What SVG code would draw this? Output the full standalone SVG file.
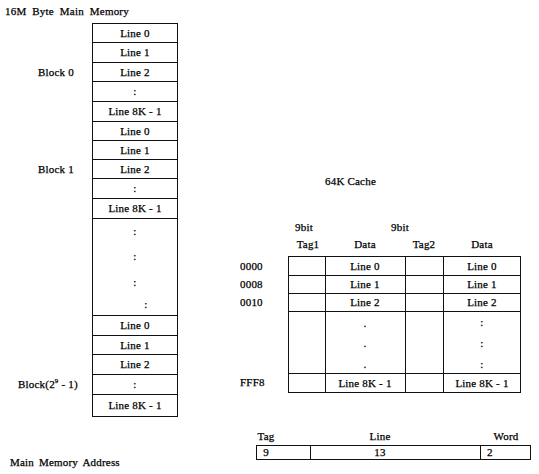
<svg xmlns="http://www.w3.org/2000/svg" width="539" height="474" viewBox="0 0 539 474">
<style>
text{font-family:"Liberation Serif","DejaVu Serif",serif;font-size:11px;fill:#000;stroke:#000;stroke-width:0.25;letter-spacing:0.2px}
.c{text-anchor:middle}
.b{fill:none;stroke:#111;stroke-width:1}
.l{stroke:#111;stroke-width:1}
</style>
<rect width="539" height="474" fill="#fff"/>
<text x="5" y="15" font-size="12" letter-spacing="0.5" word-spacing="3">16M Byte Main Memory</text>
<g id="main-memory">
<rect class="b" x="92.5" y="23.5" width="85" height="393"/>
<g class="l">
<line x1="92" y1="42.5" x2="178" y2="42.5"/><line x1="92" y1="62.5" x2="178" y2="62.5"/>
<line x1="92" y1="81.5" x2="178" y2="81.5"/><line x1="92" y1="101.5" x2="178" y2="101.5"/>
<line x1="92" y1="121.5" x2="178" y2="121.5"/><line x1="92" y1="140.5" x2="178" y2="140.5"/>
<line x1="92" y1="159.5" x2="178" y2="159.5"/><line x1="92" y1="178.5" x2="178" y2="178.5"/>
<line x1="92" y1="198.5" x2="178" y2="198.5"/><line x1="92" y1="218.5" x2="178" y2="218.5"/>
<line x1="92" y1="315.5" x2="178" y2="315.5"/><line x1="92" y1="335.5" x2="178" y2="335.5"/>
<line x1="92" y1="354.5" x2="178" y2="354.5"/><line x1="92" y1="374.5" x2="178" y2="374.5"/>
<line x1="92" y1="394.5" x2="178" y2="394.5"/>
</g>
<text class="c" x="135" y="37">Line 0</text>
<text class="c" x="135" y="56">Line 1</text>
<text class="c" x="135" y="76">Line 2</text>
<text class="c" x="135" y="95">:</text>
<text class="c" x="135" y="115">Line 8K - 1</text>
<text class="c" x="135" y="135">Line 0</text>
<text class="c" x="135" y="154">Line 1</text>
<text class="c" x="135" y="173">Line 2</text>
<text class="c" x="135" y="192">:</text>
<text class="c" x="135" y="212">Line 8K - 1</text>
<text class="c" x="135" y="235">:</text>
<text class="c" x="135" y="260">:</text>
<text class="c" x="135" y="286">:</text>
<text class="c" x="146" y="308">:</text>
<text class="c" x="135" y="329">Line 0</text>
<text class="c" x="135" y="349">Line 1</text>
<text class="c" x="135" y="368">Line 2</text>
<text class="c" x="135" y="388">:</text>
<text class="c" x="135" y="409">Line 8K - 1</text>
</g>
<g id="block-labels">
<text x="38" y="76">Block 0</text>
<text x="38" y="173">Block 1</text>
<text x="18" y="388">Block(2<tspan font-size="7" dy="-5">9</tspan><tspan dy="5"> - 1)</tspan></text>
</g>
<g id="cache">
<text x="325" y="185">64K Cache</text>
<text x="295" y="231">9bit</text>
<text x="391" y="231">9bit</text>
<text class="c" x="308" y="248">Tag1</text>
<text class="c" x="365" y="248">Data</text>
<text class="c" x="424" y="248">Tag2</text>
<text class="c" x="482" y="248">Data</text>
<rect class="b" x="288.5" y="256.5" width="232" height="136"/>
<g class="l">
<line x1="325.5" y1="256" x2="325.5" y2="393"/>
<line x1="405.5" y1="256" x2="405.5" y2="393"/>
<line x1="443.5" y1="256" x2="443.5" y2="393"/>
<line x1="288" y1="275.5" x2="521" y2="275.5"/>
<line x1="288" y1="293.5" x2="521" y2="293.5"/>
<line x1="288" y1="311.5" x2="521" y2="311.5"/>
<line x1="288" y1="373.5" x2="521" y2="373.5"/>
</g>
<text class="c" x="365" y="270">Line 0</text>
<text class="c" x="482" y="270">Line 0</text>
<text class="c" x="365" y="288">Line 1</text>
<text class="c" x="482" y="288">Line 1</text>
<text class="c" x="365" y="306">Line 2</text>
<text class="c" x="482" y="306">Line 2</text>
<text class="c" x="365" y="327">.</text>
<text class="c" x="365" y="347">.</text>
<text class="c" x="365" y="368">.</text>
<text class="c" x="482" y="326">:</text>
<text class="c" x="482" y="347">:</text>
<text class="c" x="482" y="368">:</text>
<text class="c" x="365" y="387">Line 8K - 1</text>
<text class="c" x="482" y="387">Line 8K - 1</text>
<text x="240" y="270">0000</text>
<text x="240" y="288">0008</text>
<text x="240" y="306">0010</text>
<text x="240" y="386">FFF8</text>
</g>
<g id="address">
<text class="c" x="266" y="440">Tag</text>
<text class="c" x="380" y="440">Line</text>
<text class="c" x="506" y="440">Word</text>
<rect class="b" x="256.5" y="445.5" width="274" height="14"/>
<line class="l" x1="310.5" y1="445" x2="310.5" y2="460"/>
<line class="l" x1="480.5" y1="445" x2="480.5" y2="460"/>
<text class="c" x="266" y="456">9</text>
<text class="c" x="380" y="456">13</text>
<text x="487" y="456">2</text>
<text x="10" y="466" letter-spacing="0.6" word-spacing="2">Main Memory Address</text>
</g>
</svg>
